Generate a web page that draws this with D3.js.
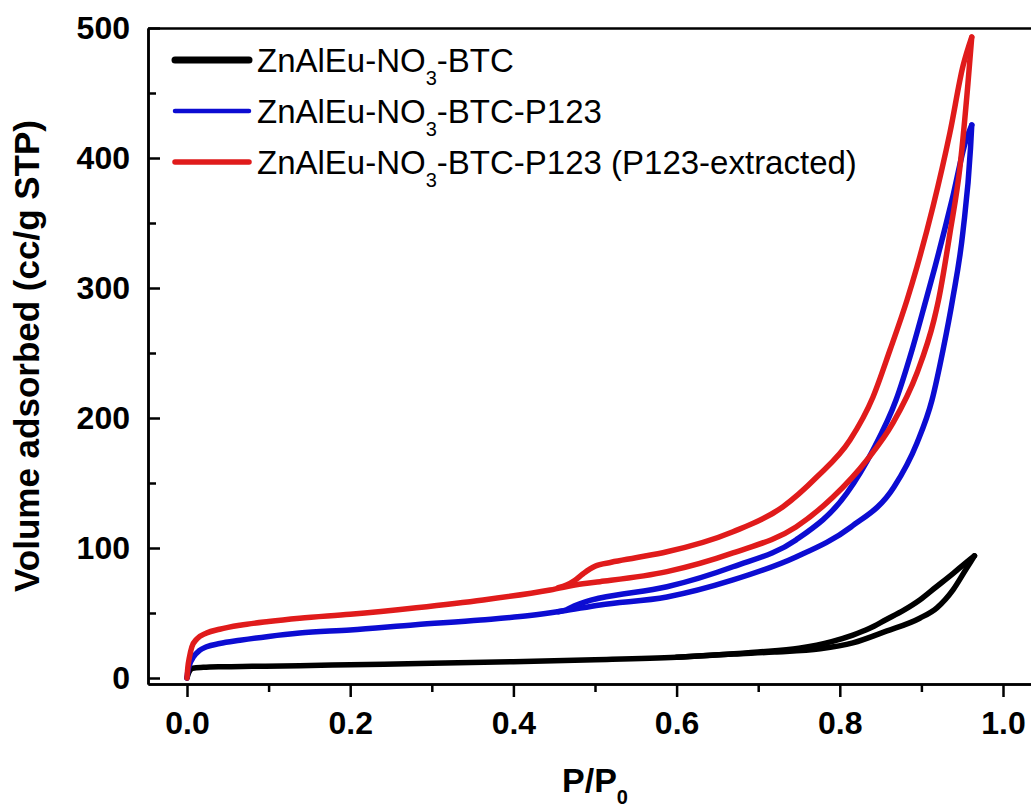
<!DOCTYPE html>
<html>
<head>
<meta charset="utf-8">
<script src="https://cdn.jsdelivr.net/npm/d3@7"></script>
<style>
  body { margin: 0; background: #fff; }
  svg { display: block; }
  .axis path, .axis line { stroke: #000; stroke-width: 2.5; }
  .axis text { font-family: "Liberation Sans", Arial, sans-serif; font-weight: bold; font-size: 32px; fill: #000; }
  .title { font-family: "Liberation Sans", Arial, sans-serif; font-weight: bold; fill: #000; }
  .curve { fill: none; stroke-width: 5.5; stroke-linejoin: round; stroke-linecap: round; }
  .legend text { font-family: "Liberation Sans", Arial, sans-serif; font-size: 33px; fill: #000; }
</style>
</head>
<body>
<div id="chart"></div>
<script>
// axis ticks
var xTicks = [0, 0.2, 0.4, 0.6, 0.8, 1.0];
var xMinorTicks = [0.1, 0.3, 0.5, 0.7, 0.9];
var yTicks = [0, 100, 200, 300, 400, 500];
var yMinorTicks = [50, 150, 250, 350, 450];

// legend
var legendPrefix = "ZnAlEu-NO";
var legendSub = "3";
var legendSuffix = ["-BTC", "-BTC-P123", "-BTC-P123 (P123-extracted)"];
var colors = ["#000000", "#0c0cd2", "#e01b1b"];

// ZnAlEu-NO3-BTC
var blackAdsP = [0, 0.002, 0.007, 0.02, 0.044, 0.08, 0.138, 0.2, 0.3, 0.4, 0.5, 0.6, 0.67, 0.72, 0.776, 0.816, 0.857, 0.898, 0.919, 0.939, 0.955, 0.965];
var blackAdsV = [0, 4, 7.5, 8.2, 8.7, 9, 9.5, 10.2, 11.3, 12.5, 14, 16, 18.5, 20, 22.5, 27, 36, 46, 54, 68, 84, 94];
var blackDesP = [0.965, 0.955, 0.939, 0.918, 0.898, 0.878, 0.857, 0.836, 0.816, 0.79, 0.75, 0.7, 0.6];
var blackDesV = [94, 89, 80.5, 70, 60, 52, 45, 38, 33, 28, 23, 20, 16];

// ZnAlEu-NO3-BTC-P123
var blueAdsP = [0, 0.001, 0.003, 0.008, 0.015, 0.024, 0.04, 0.065, 0.1, 0.138, 0.2, 0.28, 0.36, 0.42, 0.46, 0.5061, 0.5882, 0.6691, 0.7463, 0.8137, 0.8664, 0.8946, 0.913, 0.9265, 0.9381, 0.951, 0.9602, 0.9617];
var blueAdsV = [0, 5, 10, 16.3, 21, 24, 26.5, 29, 32, 34.6, 37, 41, 44.6, 48, 51.5, 56.2, 62.3, 75.4, 93.1, 116.2, 146.9, 180.8, 213.8, 252.3, 290.8, 343.8, 407.7, 425.4];
var blueDesP = [0.9617, 0.9547, 0.9375, 0.9167, 0.9056, 0.8885, 0.8689, 0.8407, 0.8088, 0.7463, 0.6691, 0.5882, 0.5061, 0.49, 0.475, 0.465, 0.455];
var blueDesV = [425.4, 413.8, 367.7, 316.4, 290.8, 252.3, 213.8, 175.4, 142.3, 106.2, 85.6, 70.2, 61.5, 59, 55.5, 52.5, 51];

// ZnAlEu-NO3-BTC-P123 (P123-extracted)
var redAdsP = [0, 0.001, 0.003, 0.006, 0.012, 0.024, 0.04, 0.065, 0.1, 0.138, 0.2, 0.281, 0.363, 0.445, 0.485, 0.5061, 0.5882, 0.6691, 0.7463, 0.7917, 0.8333, 0.8652, 0.8946, 0.9154, 0.921, 0.935, 0.9473, 0.9571, 0.9617];
var redAdsV = [0, 8, 16, 24, 30, 34.6, 37.5, 40.6, 43.5, 46, 49, 54, 60, 67.7, 72.5, 74.1, 81.8, 96.2, 116.2, 139.2, 167.7, 196.2, 234.6, 275.4, 290.8, 342.3, 393.3, 457.7, 493];
var redDesP = [0.9617, 0.951, 0.935, 0.9142, 0.8946, 0.8824, 0.8615, 0.8407, 0.8125, 0.7721, 0.7304, 0.6691, 0.5882, 0.55, 0.52, 0.5, 0.494, 0.485, 0.475, 0.465, 0.455];
var redDesV = [493, 470.8, 419.6, 362.6, 316.4, 290.8, 252.3, 216.2, 183.1, 154.8, 131.8, 112.5, 97.1, 92.5, 89, 86, 84, 80, 75, 71.5, 69.5];

function init() {

  var w = 1031;
  var h = 809;

  var series = [
    { color: colors[0], branches: [d3.zip(blackAdsP, blackAdsV), d3.zip(blackDesP, blackDesV)] },
    { color: colors[1], branches: [d3.zip(blueAdsP, blueAdsV), d3.zip(blueDesP, blueDesV)] },
    { color: colors[2], branches: [d3.zip(redAdsP, redAdsV), d3.zip(redDesP, redDesV)] }
  ];

  var xScale = d3.scaleLinear().domain([0, 1]).range([187, 1003]);
  xScale.domain([xScale.invert(148), xScale.invert(1045)]).range([148, 1045]);

  var yScale = d3.scaleLinear().domain([0, 500]).range([678, 28]);
  yScale.domain([yScale.invert(684), 500]).range([684, 28]);

  var svg = d3.select("#chart")
    .append("svg")
    .attr("width", w)
    .attr("height", h);

  var line = d3.line()
    .x(function(d) { return xScale(d[0]); })
    .y(function(d) { return yScale(d[1]); })
    .curve(d3.curveMonotoneX);

  series.forEach(function(s) {
    svg.append("g")
      .selectAll("path")
      .data(s.branches)
      .enter()
      .append("path")
      .attr("class", "curve")
      .attr("stroke", s.color)
      .attr("d", line);
  });

  // axes
  svg.append("g")
    .attr("class", "axis")
    .attr("transform", "translate(0," + yScale.range()[0] + ")")
    .call(d3.axisBottom(xScale)
      .tickValues(xTicks)
      .tickSize(13)
      .tickSizeOuter(0)
      .tickPadding(14)
      .tickFormat(d3.format(".1f")));

  svg.append("g")
    .attr("class", "axis")
    .attr("transform", "translate(0," + yScale.range()[0] + ")")
    .call(d3.axisBottom(xScale)
      .tickValues(xMinorTicks)
      .tickSize(8)
      .tickSizeOuter(0)
      .tickFormat(""));

  svg.append("g")
    .attr("class", "axis")
    .attr("transform", "translate(" + xScale.range()[0] + ",0)")
    .call(d3.axisLeft(yScale)
      .tickValues(yTicks)
      .tickSize(-12)
      .tickSizeOuter(0)
      .tickPadding(18)
      .tickFormat(d3.format("d")));

  svg.append("g")
    .attr("class", "axis")
    .attr("transform", "translate(" + xScale.range()[0] + ",0)")
    .call(d3.axisLeft(yScale)
      .tickValues(yMinorTicks)
      .tickSize(-8)
      .tickSizeOuter(0)
      .tickFormat(""));

  svg.append("g")
    .attr("class", "axis")
    .attr("transform", "translate(0," + yScale.range()[1] + ")")
    .call(d3.axisTop(xScale).tickValues([]).tickSizeOuter(0));

  // titles
  svg.append("text")
    .attr("class", "title")
    .attr("transform", "translate(39,356) rotate(-90)")
    .attr("text-anchor", "middle")
    .attr("font-size", "35px")
    .text("Volume adsorbed (cc/g STP)");

  var xt = svg.append("text")
    .attr("class", "title")
    .attr("x", 595)
    .attr("y", 792)
    .attr("text-anchor", "middle")
    .attr("font-size", "34px");
  xt.append("tspan").text("P/P");
  xt.append("tspan").attr("font-size", "20px").attr("dy", 12).text("0");

  // legend
  var legend = svg.append("g")
    .attr("class", "legend")
    .selectAll("g")
    .data(legendSuffix)
    .enter()
    .append("g")
    .attr("transform", function(d, i) { return "translate(173," + (60 + i * 51) + ")"; });

  legend.append("line")
    .attr("x1", 2)
    .attr("x2", 76)
    .attr("stroke", function(d, i) { return colors[i]; })
    .attr("stroke-width", function(d, i) { return [7, 4.5, 5.5][i]; })
    .attr("stroke-linecap", "round");

  var lt = legend.append("text")
    .attr("x", 84)
    .attr("y", 12);
  lt.append("tspan").text(legendPrefix);
  lt.append("tspan").attr("font-size", "20px").attr("dy", 13).text(legendSub);
  lt.append("tspan").attr("dy", -13).text(function(d) { return d; });

}

window.onload = init;
</script>
</body>
</html>
